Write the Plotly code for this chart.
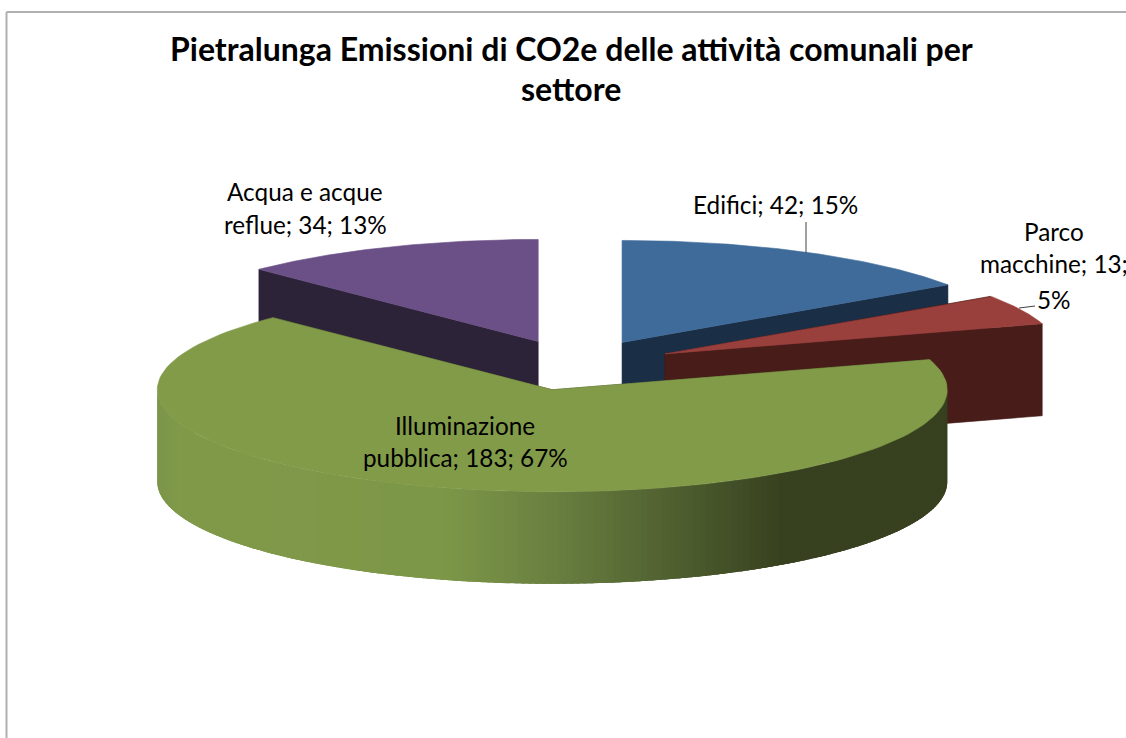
"""
Pietralunga CO2e by sector: exploded pseudo-3D pie, built from filled scatter traces.
"""

import numpy as np
import plotly.graph_objects as go

# data
sectors = ["Edifici", "Parco macchine", "Illuminazione pubblica", "Acqua e acque reflue"]
values = [42, 13, 183, 34]
percents = [15, 5, 67, 13]

top_colors = ["#3f6b9b", "#9a403c", "#829b49", "#6b5087"]
wall_colors = ["#1a2e46", "#471c19", "#37401f", "#2d2339"]

title_lines = ["Pietralunga Emissioni di CO2e delle attività comunali per", "settore"]

# pie geometry, in page pixels
CX, CY = 576, 365
RX, RY = 395, 102
DEPTH = 92
EXPLODE = 0.25
FONT = "Lato"

# light to dark ramp of the big slice's round wall, by x position
GREEN_RAMP = [(158, "#7c964a"), (185, "#819a4a"), (450, "#7d9748"),
              (560, "#697f40"), (680, "#4f5f30"), (790, "#37401f"), (950, "#37401f")]


def rim(cx, cy, deg):
    a = np.radians(deg)
    return cx + RX * np.sin(a), cy - RY * np.cos(a)


def poly(fig, x, y, color, width=0.6):
    fig.add_trace(go.Scatter(
        x=list(x), y=list(y), mode="lines", fill="toself", fillcolor=color,
        line=dict(color=color, width=width), hoverinfo="skip", showlegend=False,
    ))


def ramp_color(x):
    xs = [p[0] for p in GREEN_RAMP]
    rgb = [[int(p[1][i:i + 2], 16) for i in (1, 3, 5)] for p in GREEN_RAMP]
    c = [np.interp(x, xs, [r[k] for r in rgb]) for k in range(3)]
    return "rgb(%d,%d,%d)" % tuple(c)


def draw_slice(fig, start, end, top, wall):
    mid = np.radians((start + end) / 2)
    cx = CX + EXPLODE * RX * np.sin(mid)
    cy = CY - EXPLODE * RY * np.cos(mid)
    # cut faces
    for edge in (start, end):
        ex, ey = rim(cx, cy, edge)
        if 0 < edge < 90 or 270 < edge < 360:
            poly(fig, [cx, ex, ex, cx, cx], [cy, ey, ey + DEPTH, cy + DEPTH, cy], wall)
    # round wall, only the part facing the viewer
    a0, a1 = max(start, 90), min(end, 270)
    if a1 > a0:
        # painted from the right, each strip runs under the next one so no seams show
        for s0 in np.arange(a0, a1, 1.0):
            arc = np.linspace(s0, min(s0 + 2.5, a1), 6)
            ax, ay = rim(cx, cy, arc)
            poly(fig, [*ax, *ax[::-1], ax[0]], [*ay, *(ay[::-1] + DEPTH), ay[0]],
                 ramp_color(ax[0]), width=0)
    # top face
    rx, ry = rim(cx, cy, np.linspace(start, end, 120))
    poly(fig, [cx, *rx, cx], [cy, *ry, cy], top)


total = sum(values)
bounds = np.cumsum([0] + values) / total * 360

fig = go.Figure()
# back to front
for i in (0, 3, 1, 2):
    draw_slice(fig, bounds[i], bounds[i + 1], top_colors[i], wall_colors[i])

label_lines = [
    (["Edifici; %d; %d%%" % (values[0], percents[0])], 775, [204]),
    (["Parco", "macchine; %d;" % values[1], "%d%%" % percents[1]], 1054, [231, 263, 299]),
    (["Illuminazione", "pubblica; %d; %d%%" % (values[2], percents[2])], 465, [425, 457]),
    (["Acqua e acque", "reflue; %d; %d%%" % (values[3], percents[3])], 305, [191, 224]),
]

annotations = []
for text, y in zip(title_lines, [48, 88]):
    annotations.append(dict(x=571, y=y, text="<b>%s</b>" % text, showarrow=False,
                            font=dict(family=FONT, size=32, color="#000000"),
                            xanchor="center", yanchor="middle"))
for lines, x, ys in label_lines:
    for text, y in zip(lines, ys):
        annotations.append(dict(x=x, y=y, text=text, showarrow=False,
                                font=dict(family=FONT, size=24.3, color="#000000"),
                                xanchor="center", yanchor="middle"))

leader = dict(type="line", line=dict(color="#404040", width=1))
frame = dict(type="line", line=dict(color="#b0b0b0", width=2))
fig.update_layout(
    width=1126, height=738, autosize=False,
    margin=dict(l=0, r=0, t=0, b=0),
    paper_bgcolor="#ffffff", plot_bgcolor="#ffffff",
    xaxis=dict(range=[0, 1126], visible=False, fixedrange=True),
    yaxis=dict(range=[738, 0], visible=False, fixedrange=True),
    showlegend=False,
    annotations=annotations,
    shapes=[
        dict(frame, x0=6.5, x1=6.5, y0=12, y1=738),
        dict(frame, x0=6.5, x1=1126, y0=12, y1=12),
        dict(leader, x0=806, x1=806, y0=222, y1=253),
        dict(leader, x0=1019, x1=1035, y0=308, y1=306),
    ],
)

fig.write_html(
    "out.html",
    config=dict(displayModeBar=False),
    post_script="document.body.style.margin = '0'; document.body.style.fontVariantLigatures = 'none';",
)
